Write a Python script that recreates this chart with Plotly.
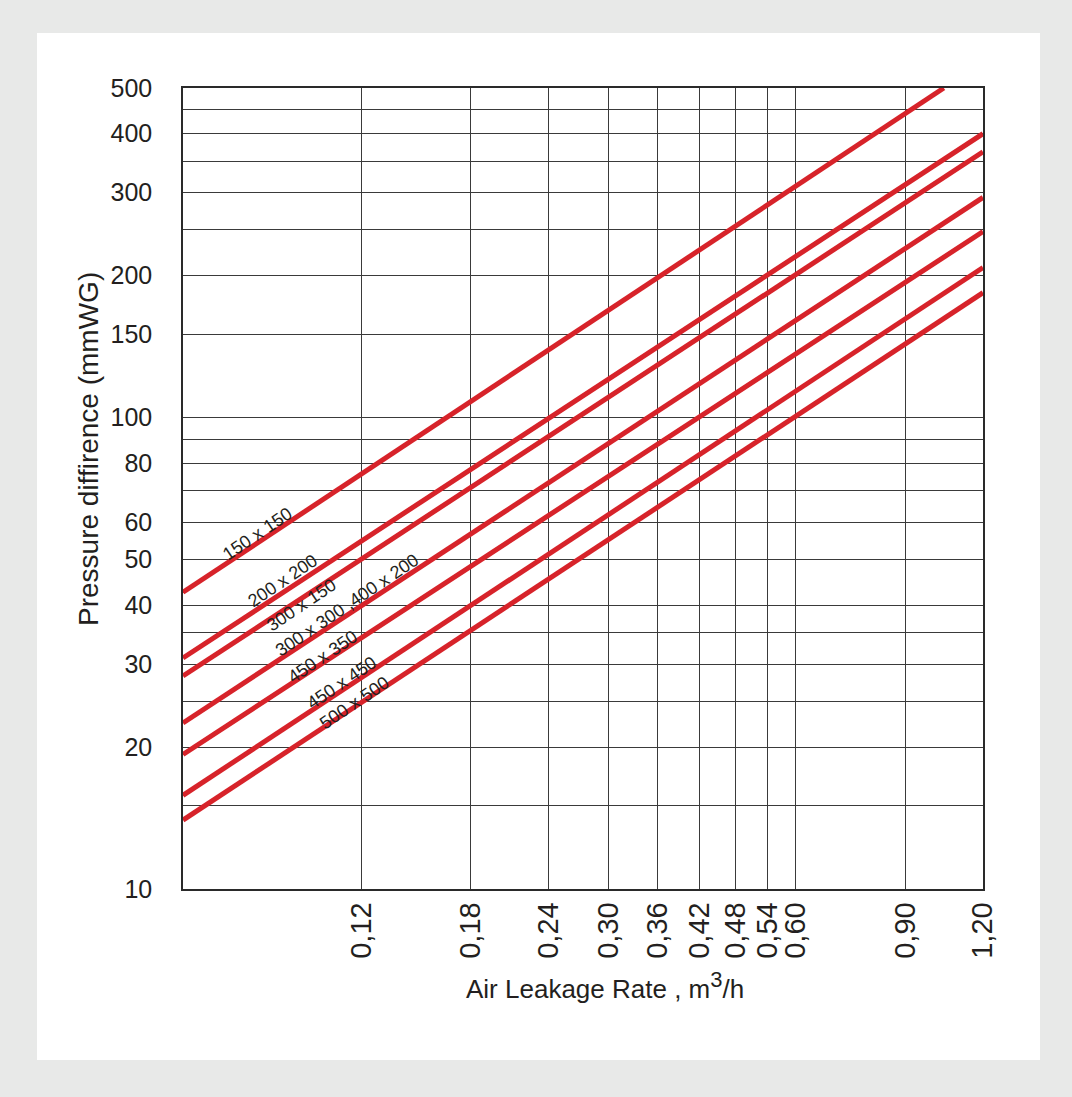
import plotly.graph_objects as go
import numpy as np

# ---- data ----
series_names = ["150 x 150", "200 x 200", "300 x 150", "300 x 300 ,400 x 200",
                "450 x 350", "450 x 450", "500 x 500"]
x_start = [0.062, 0.062, 0.062, 0.062, 0.062, 0.062, 0.062]
x_end = [1.038, 1.20, 1.20, 1.20, 1.20, 1.20, 1.20]
y_start = [42.6, 30.9, 28.3, 22.5, 19.3, 15.8, 14.0]
y_end = [500, 400, 366, 293, 248, 208, 184]

label_x = [0.0816, 0.0895, 0.0961, 0.1139, 0.1038, 0.1114, 0.1169]
label_y = [56.6, 45.1, 40.0, 40.0, 31.1, 27.4, 24.8]

x_ticks = [0.12, 0.18, 0.24, 0.30, 0.36, 0.42, 0.48, 0.54, 0.60, 0.90, 1.20]
x_ticktext = ["0,12", "0,18", "0,24", "0,30", "0,36", "0,42", "0,48", "0,54", "0,60", "0,90", "1,20"]
y_grid = [10, 15, 20, 25, 30, 35, 40, 50, 60, 70, 80, 90, 100, 150, 200, 250, 300, 350, 400, 450, 500]
y_labeled = [10, 20, 30, 40, 50, 60, 80, 100, 150, 200, 300, 400, 500]
x_min, x_max = 0.062, 1.20
y_min, y_max = 10, 500

RED = "#d7232a"
INK = "#231f20"
FONT = "Liberation Sans, Arial, Helvetica, sans-serif"

fig = go.Figure()
for i, name in enumerate(series_names):
    fig.add_trace(go.Scatter(
        x=[x_start[i], x_end[i]], y=[y_start[i], y_end[i]],
        mode="lines", line=dict(color=RED, width=5), name=name,
        showlegend=False, hoverinfo="skip"))

for i, name in enumerate(series_names):
    fig.add_annotation(x=np.log10(label_x[i]), y=np.log10(label_y[i]),
                       xref="x", yref="y", text=name, showarrow=False,
                       xanchor="center", yanchor="middle",
                       textangle=-34, font=dict(size=18, color=INK, family=FONT))

# white panel
fig.add_shape(type="rect", xref="paper", yref="paper",
              x0=-0.1825, x1=1.07125, y0=-0.2135, y1=1.0687,
              fillcolor="white", line=dict(width=0), layer="below")

fig.add_annotation(xref="paper", yref="paper", x=(605 - 183) / 800, y=(889 - 985) / 801,
                   xanchor="center", yanchor="middle",
                   text="Air Leakage Rate , m<sup><span style='font-size:22px'>3</span></sup>/h",
                   showarrow=False, font=dict(size=26, color=INK, family=FONT))
fig.add_annotation(xref="paper", yref="paper", x=(88 - 183) / 800, y=(889 - 449) / 801,
                   xanchor="center", yanchor="middle",
                   text="Pressure diffirence (mmWG)", showarrow=False, textangle=-90,
                   font=dict(size=28, color=INK, family=FONT))

fig.update_xaxes(type="log", range=[np.log10(x_min), np.log10(x_max)],
                 tickvals=x_ticks, ticktext=x_ticktext, tickangle=-90,
                 tickfont=dict(size=29, color=INK, family=FONT),
                 showgrid=True, gridcolor="#3a3a3a", gridwidth=1,
                 showline=True, linecolor="#2a2a2a", linewidth=1.5, mirror=True,
                 ticks="", ticklabelstandoff=0, zeroline=False)
fig.update_yaxes(type="log", range=[np.log10(y_min), np.log10(y_max)],
                 tickvals=y_grid,
                 ticktext=[str(v) if v in y_labeled else "" for v in y_grid],
                 tickfont=dict(size=25, color=INK, family=FONT),
                 showgrid=True, gridcolor="#3a3a3a", gridwidth=1,
                 showline=True, linecolor="#2a2a2a", linewidth=1.5, mirror=True,
                 ticks="", ticklabelstandoff=24, zeroline=False)

fig.update_layout(width=1072, height=1097,
                  margin=dict(l=183, r=89, t=88, b=208),
                  paper_bgcolor="#e8e9e8", plot_bgcolor="white",
                  showlegend=False)

fig.write_html("out.html", config={"displayModeBar": False},
               post_script="document.body.style.margin='0px';"
                           "document.body.style.background='#e8e9e8';")
